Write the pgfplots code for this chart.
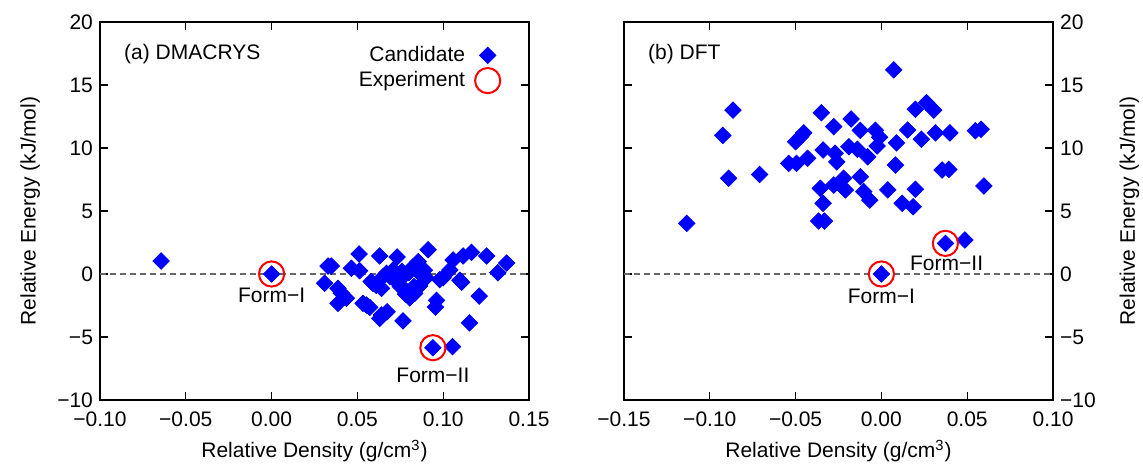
\documentclass[border=0pt]{standalone}
\usepackage{fontspec}
\setmainfont{Liberation Sans}
\usepackage{pgfplots}
\pgfplotsset{compat=1.18}
\usepackage{pgfplotstable}

\pgfplotstableread{
x y
-0.0644 1.03
0.0 0.0
0.094 -5.85
0.1054 -5.77
0.0329 0.63
0.0348 0.63
0.0309 -0.74
0.0387 -1.14
0.0407 -1.53
0.0436 -1.93
0.0387 -2.33
0.0465 0.45
0.0513 0.26
0.051 1.59
0.0533 -2.33
0.0552 -2.46
0.0572 -2.65
0.0591 -0.74
0.061 -0.9
0.063 1.43
0.064 -1.14
0.065 -0.21
0.063 -3.52
0.064 -3.25
0.0673 -3.0
0.067 0.05
0.0708 0.32
0.0731 1.35
0.0747 -0.48
0.0766 -3.72
0.0786 -1.35
0.0805 -1.9
0.0825 0.58
0.0844 0.7
0.0854 0.98
0.0873 -0.1
0.0863 -0.95
0.0834 -1.53
0.0912 1.93
0.0961 -2.1
0.0955 -2.62
0.098 -0.45
0.100 -0.3
0.1039 0.32
0.1058 1.11
0.1097 -0.5
0.1107 -0.65
0.1116 1.43
0.1165 1.72
0.121 -1.75
0.1153 -3.88
0.1253 1.43
0.1318 0.1
0.137 0.87
0.072 -0.5
0.075 -1.0
0.078 -1.6
0.080 0.1
0.083 -1.0
0.089 0.3
0.090 -0.3
0.058 -0.6
0.069 -0.2
0.076 0.2
}\candA

\pgfplotstableread{
x y
0.0 0.0
0.094 -5.85
}\expA

\pgfplotstableread{
x y
-0.1134 4.02
-0.0924 11.0
-0.0865 13.0
-0.0890 7.6
-0.0710 7.9
-0.0540 8.78
-0.0495 8.78
-0.0430 9.18
-0.0500 10.5
-0.0470 10.9
-0.0453 11.2
-0.0350 12.8
-0.0340 9.84
-0.0278 11.7
-0.0177 12.3
-0.0123 11.4
-0.0035 11.4
-0.0010 10.85
-0.0025 10.16
0.0153 11.43
0.0088 10.4
0.0233 10.7
0.0315 11.2
0.0399 11.2
0.0548 11.37
0.0581 11.48
0.0198 13.07
0.0263 13.6
0.0305 13.0
0.0072 16.2
-0.027 9.58
-0.026 8.9
-0.019 10.1
-0.014 9.9
-0.008 9.3
0.0082 8.65
0.0354 8.25
0.0393 8.3
-0.0123 7.72
-0.022 7.6
-0.0278 7.06
-0.0356 6.8
-0.021 6.67
-0.0103 6.53
-0.0068 5.87
0.0037 6.67
0.0198 6.72
0.0121 5.61
0.0185 5.34
-0.034 5.61
-0.0366 4.2
-0.0332 4.2
0.0597 6.98
0.0486 2.7
0.0373 2.43
0.0 0.0
}\candB

\pgfplotstableread{
x y
0.0 0.0
0.0373 2.43
}\expB

\pgfplotsset{
  every axis/.append style={font=\fontsize{10.5}{12.6}\selectfont},
  myaxis/.style={
    width=214.5pt, height=189pt, scale only axis,
    ymin=-10, ymax=20,
    ytick={-10,-5,0,5,10,15,20},
    yticklabels={−10,−5,0,5,10,15,20},
    tick align=inside,
    major tick length=4pt,
    ylabel={Relative Energy (kJ/mol)},
    xlabel={Relative Density (g/cm\textsuperscript{3})},
    xlabel style={at={(axis description cs:0.5,-0.135)}, anchor=center},
    xticklabel style={yshift=-2.5pt},
    axis line style={line width=0.8pt},
    every tick/.style={black, line width=0.6pt},
  },
  candstyle/.style={only marks, mark=square*, mark size=2.9pt,
    mark options={rotate=45, fill=blue, draw=blue}},
  expstyle/.style={only marks, mark=o, mark size=6.3pt,
    mark options={draw=red, line width=1pt}},
}

\begin{document}
\begin{tikzpicture}
\useasboundingbox (-50pt,-34.5pt) rectangle (521.5pt,200pt);
\begin{axis}[myaxis,
  at={(0pt,0pt)}, anchor=south west,
  xmin=-0.1, xmax=0.15,
  xtick={-0.1,-0.05,0,0.05,0.1,0.15},
  xticklabels={−0.10,−0.05,0.00,0.05,0.10,0.15},
  ylabel style={at={(axis description cs:-0.163,0.5)}, anchor=center},
  legend style={draw=none, fill=none, at={(rel axis cs:0.948,0.958)}, anchor=north east,
    row sep=-0.5pt, font=\fontsize{10.5}{12.6}\selectfont,
    nodes={inner xsep=5pt}},
  legend cell align=right,
  legend plot pos=right,
]
\draw[densely dashed, gray!80!black, line width=0.6pt] (axis cs:-0.1,0) -- (axis cs:0.15,0);
\addplot[candstyle] table[x=x,y=y] {\candA};
\addlegendentry{Candidate}
\addplot[expstyle] table[x=x,y=y] {\expA};
\addlegendentry{Experiment}
\node[anchor=west] at (rel axis cs:0.04,0.915) {(a) DMACRYS};
\node at (axis cs:0,-1.7) {Form−I};
\node at (axis cs:0.094,-8.05) {Form−II};
\end{axis}
\begin{axis}[myaxis,
  at={(262pt,0pt)}, anchor=south west,
  xmin=-0.15, xmax=0.1,
  xtick={-0.15,-0.1,-0.05,0,0.05,0.1},
  xticklabels={−0.15,−0.10,−0.05,0.00,0.05,0.10},
  yticklabel pos=right,
  ylabel near ticks,
  ylabel style={at={(axis description cs:1.178,0.5)}, anchor=center},
]
\draw[densely dashed, gray!80!black, line width=0.6pt] (axis cs:-0.15,0) -- (axis cs:0.1,0);
\addplot[candstyle] table[x=x,y=y] {\candB};
\addplot[expstyle] table[x=x,y=y] {\expB};
\node[anchor=west] at (rel axis cs:0.04,0.915) {(b) DFT};
\node at (axis cs:0,-1.8) {Form−I};
\node at (axis cs:0.038,0.85) {Form−II};
\end{axis}
\end{tikzpicture}
\end{document}
